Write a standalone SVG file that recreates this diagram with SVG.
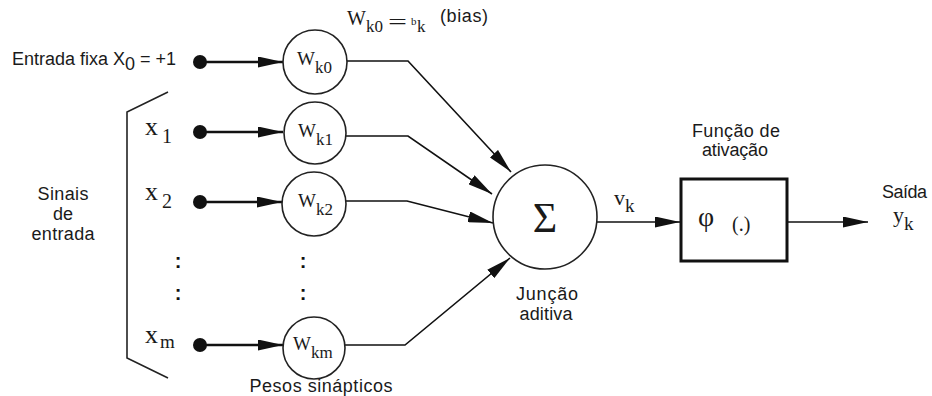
<svg xmlns="http://www.w3.org/2000/svg" width="932" height="396" viewBox="0 0 932 396">
<defs>
<marker id="ah" markerUnits="userSpaceOnUse" markerWidth="26" markerHeight="11" refX="25" refY="5.5" orient="auto">
<path d="M0,0 L25,5.5 L0,11 Z" fill="#111"/>
</marker>
<style>
.sans{font-family:"Liberation Sans",Arial,sans-serif;font-size:18px;fill:#1a1a1a}
.serif{font-family:"Liberation Serif","Times New Roman",serif;fill:#1a1a1a}
.node{fill:#fff;stroke:#222;stroke-width:1.6}
.conn{fill:none;stroke:#111;stroke-width:1.6}
.inp{fill:none;stroke:#111;stroke-width:2.6}
.dot{fill:#111}
.colon{font-family:"Liberation Sans",Arial,sans-serif;font-size:20px;font-weight:bold;fill:#111;text-anchor:middle}
</style>
</defs>
<rect width="932" height="396" fill="#fff"/>

<g id="labels">
<text class="sans" x="12" y="65">Entrada fixa X<tspan dy="5">0</tspan><tspan dy="-5"> = +1</tspan></text>
<text class="sans" text-anchor="middle" x="63" y="200" textLength="51">Sinais</text>
<text class="sans" text-anchor="middle" x="63" y="220">de</text>
<text class="sans" text-anchor="middle" x="63" y="240" textLength="63">entrada</text>
<text class="serif" x="347" y="25" font-size="20">W<tspan font-size="17" dy="7">k0</tspan></text>
<text class="serif" x="388" y="29" font-size="20" textLength="19" lengthAdjust="spacingAndGlyphs">=</text>
<text class="serif" x="411" y="25" font-size="11">b</text>
<text class="serif" x="417" y="32" font-size="17">k</text>
<text class="sans" x="440" y="22" font-size="17" textLength="48">(bias)</text>
<text class="sans" text-anchor="middle" x="321" y="392" textLength="143">Pesos sinápticos</text>
<text class="sans" text-anchor="middle" x="547" y="300" font-size="17" textLength="62">Junção</text>
<text class="sans" text-anchor="middle" x="546" y="320" font-size="17" textLength="53">aditiva</text>
<text class="sans" text-anchor="middle" x="736" y="137" font-size="17" textLength="88">Função de</text>
<text class="sans" text-anchor="middle" x="735" y="156" font-size="17" textLength="66">ativação</text>
<text class="sans" x="882" y="198" font-size="17" textLength="45">Saída</text>
<text class="serif" x="893" y="222" font-size="22">y<tspan font-size="19" dy="8">k</tspan></text>
<text class="serif" x="614" y="205" font-size="22">v<tspan font-size="19" dy="7">k</tspan></text>
</g>

<g id="bracket">
<polyline points="168,92 127,112 127,358 168,378" fill="none" stroke="#222" stroke-width="1.6"/>
</g>

<g id="inputs">
<g id="x0"><circle class="dot" cx="200" cy="62" r="7"/></g>
<g id="x1"><text class="serif" x="145" y="135" font-size="26">x<tspan font-size="20" dx="4" dy="8">1</tspan></text><circle class="dot" cx="200" cy="132" r="7"/></g>
<g id="x2"><text class="serif" x="145" y="200" font-size="26">x<tspan font-size="20" dx="4" dy="8">2</tspan></text><circle class="dot" cx="200" cy="202" r="7"/></g>
<g id="xm"><text class="serif" x="145" y="343" font-size="26">x<tspan font-size="19" dx="2" dy="5">m</tspan></text><circle class="dot" cx="200" cy="345" r="7"/></g>
<text class="colon" x="178" y="268">:</text>
<text class="colon" x="178" y="300">:</text>
<text class="colon" x="303" y="268">:</text>
<text class="colon" x="303" y="300">:</text>
</g>

<g id="connectors">
<line class="inp" x1="200" y1="62" x2="283" y2="62" marker-end="url(#ah)"/>
<line class="inp" x1="200" y1="132" x2="283" y2="132" marker-end="url(#ah)"/>
<line class="inp" x1="200" y1="202" x2="282" y2="202" marker-end="url(#ah)" stroke-width="3.2"/>
<line class="inp" x1="200" y1="345" x2="283" y2="345" marker-end="url(#ah)"/>
<polyline class="conn" points="347,61 408,61 511,172" marker-end="url(#ah)"/>
<polyline class="conn" points="346,136 408,136 492,194" marker-end="url(#ah)"/>
<polyline class="conn" points="346,201 407,201 493,223" marker-end="url(#ah)"/>
<polyline class="conn" points="345,345 405,345 510,258" marker-end="url(#ah)"/>
<line class="conn" x1="597" y1="222" x2="680" y2="222" stroke-width="2" marker-end="url(#ah)"/>
<line class="conn" x1="787" y1="222" x2="868" y2="222" stroke-width="2" marker-end="url(#ah)"/>
</g>

<g id="wk0"><circle class="node" cx="315" cy="62" r="32"/><text class="serif" x="297" y="65" font-size="19">W<tspan font-size="17" dy="8">k0</tspan></text></g>
<g id="wk1"><circle class="node" cx="315" cy="133" r="31"/><text class="serif" x="298" y="137" font-size="19">W<tspan font-size="17" dy="8">k1</tspan></text></g>
<g id="wk2"><circle class="node" cx="314" cy="204" r="32"/><text class="serif" x="298" y="207" font-size="19">W<tspan font-size="17" dy="8">k2</tspan></text></g>
<g id="wkm"><circle class="node" cx="314" cy="348" r="31"/><text class="serif" x="293" y="350" font-size="19">W<tspan font-size="17" dy="8">km</tspan></text></g>

<g id="sum"><circle class="node" cx="545" cy="217" r="52"/><text class="serif" x="545" y="232" font-size="42" text-anchor="middle">Σ</text></g>

<g id="activation"><rect x="681" y="179" width="106" height="82" fill="#fff" stroke="#111" stroke-width="3"/><text class="serif" x="698" y="226" font-size="28">φ</text><text class="serif" x="732" y="231" font-size="20">(.)</text></g>
</svg>
